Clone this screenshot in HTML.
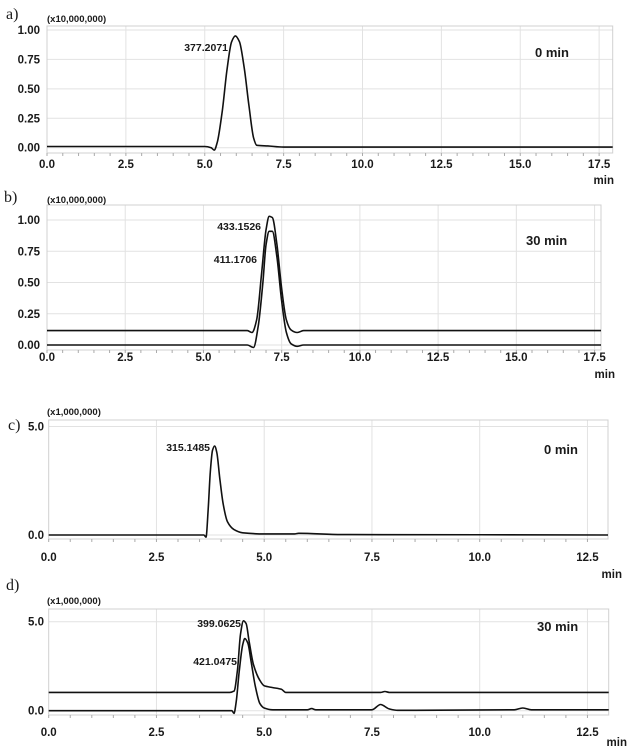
<!DOCTYPE html>
<html><head><meta charset="utf-8">
<style>
html,body{margin:0;padding:0;background:#fff;}
svg{display:block;}
.tk{font-family:"Liberation Sans",Arial,sans-serif;font-weight:bold;font-size:11.5px;fill:#1a1a1a;}
.an{font-family:"Liberation Sans",Arial,sans-serif;font-weight:bold;font-size:10.5px;fill:#1a1a1a;}
.sc{font-family:"Liberation Sans",Arial,sans-serif;font-weight:bold;font-size:9.5px;fill:#1a1a1a;}
.tm{font-family:"Liberation Sans",Arial,sans-serif;font-weight:bold;font-size:13px;fill:#1a1a1a;}
.pl{font-family:"Liberation Serif",serif;font-size:16px;fill:#1a1a1a;}
</style></head>
<body>
<svg id="fig" width="634" height="751" viewBox="0 0 634 751" xmlns="http://www.w3.org/2000/svg"></svg>
<script>
// Panel a
const aT = [0,5.0,5.2,5.3,5.4,5.55,5.7,5.85,5.97,6.1,6.25,6.4,6.55,6.65,7.0,7.5,18];
const aV = [0.01,0.01,0.0,-0.02,0.05,0.3,0.65,0.9,0.95,0.9,0.68,0.36,0.08,0.02,0.015,0.005,0.005];
// Panel b
const bUT = [0,6.4,6.55,6.7,6.85,7.0,7.1,7.2,7.35,7.5,7.65,7.8,8.0,8.2,18];
const bUV = [0.115,0.115,0.1,0.2,0.55,0.92,1.03,1.02,0.8,0.45,0.2,0.12,0.1,0.115,0.115];
const bLT = [0,6.4,6.6,6.75,6.9,7.0,7.1,7.2,7.35,7.5,7.65,7.8,8.0,8.2,18];
const bLV = [0,0,-0.02,0.15,0.5,0.8,0.91,0.91,0.7,0.35,0.1,0.01,-0.01,0,0];
// Panel c
const cT = [0,3.6,3.65,3.7,3.75,3.8,3.85,3.9,3.97,4.05,4.15,4.3,4.5,5.0,5.7,5.8,6.8,7.0,13];
const cV = [0,0,-0.1,1.2,2.9,3.9,4.1,3.8,2.6,1.4,0.6,0.25,0.1,0.05,0.05,0.08,0.02,0.02,0];
// Panel d
const dUT = [0,4.2,4.3,4.38,4.45,4.52,4.58,4.65,4.75,4.9,5.0,5.2,5.4,5.5,7.7,7.8,7.9,13];
const dUV = [1.03,1.03,1.1,2.3,4.3,5.05,4.9,3.9,2.6,1.7,1.4,1.3,1.2,1.03,1.03,1.08,1.03,1.03];
const dLT = [0,4.25,4.3,4.35,4.42,4.5,4.55,4.62,4.7,4.8,4.9,5.0,5.2,6.0,6.1,6.2,7.5,7.7,7.9,8.1,10.8,11.0,11.2,13];
const dLV = [0,0,-0.15,0.5,2.2,3.7,4.05,3.8,2.7,1.3,0.4,0.15,0.05,0.05,0.12,0.05,0.05,0.35,0.1,0.02,0.05,0.15,0.05,0.05];

const xTicks1 = ["0.0","2.5","5.0","7.5","10.0","12.5","15.0","17.5"];
const xTicks2 = ["0.0","2.5","5.0","7.5","10.0","12.5"];
const yTicksAB = ["0.00","0.25","0.50","0.75","1.00"];
const yTicksCD = ["0.0","5.0"];

const NS = "http://www.w3.org/2000/svg";
const fig = document.getElementById('fig');
function mk(tag, attrs, parent, text){
  const e = document.createElementNS(NS, tag);
  for (const k in attrs) e.setAttribute(k, attrs[k]);
  if (text !== undefined) e.textContent = text;
  (parent||fig).appendChild(e);
  return e;
}
// monotone cubic (Fritsch-Carlson) in x
function smoothPath(pts){
  const n = pts.length, dx = [], m = [], s = [];
  for (let i = 0; i < n-1; i++){ dx[i] = pts[i+1][0]-pts[i][0]; s[i] = dx[i] ? (pts[i+1][1]-pts[i][1])/dx[i] : 0; }
  m[0] = s[0]; m[n-1] = s[n-2];
  for (let i = 1; i < n-1; i++){
    if (s[i-1]*s[i] <= 0) m[i] = 0;
    else { const w1 = 2*dx[i]+dx[i-1], w2 = dx[i]+2*dx[i-1]; m[i] = (w1+w2)/(w1/s[i-1]+w2/s[i]); }
  }
  let d = 'M' + pts[0][0].toFixed(1) + ',' + pts[0][1].toFixed(1);
  for (let i = 0; i < n-1; i++){
    const h = dx[i]/3;
    d += 'C' + (pts[i][0]+h).toFixed(1) + ',' + (pts[i][1]+m[i]*h).toFixed(1) + ' ' +
         (pts[i+1][0]-h).toFixed(1) + ',' + (pts[i+1][1]-m[i+1]*h).toFixed(1) + ' ' +
         pts[i+1][0].toFixed(1) + ',' + pts[i+1][1].toFixed(1);
  }
  return d;
}

function panel(p){
  const g = mk('g', {});
  
  
  const X = t => p.x0 + t * p.kx;
  const Y = v => p.y0 - v * p.ky;
  for (let i = 1; i < p.xticks.length; i++){
    const gl = mk('line', {x1:X(+p.xticks[i]), x2:X(+p.xticks[i]), y1:p.top, y2:p.bot, stroke:'#e2e2e2', 'stroke-width':1}, g);
    
    
  }
  p.yticks.forEach(s => {
    const gl = mk('line', {x1:p.x0, x2:p.right, y1:Y(+s), y2:Y(+s), stroke:'#e2e2e2', 'stroke-width':1}, g);
    
    
  });
  const fr = mk('rect', {x:p.x0, y:p.top, width:p.right-p.x0, height:p.bot-p.top, fill:'none', stroke:'#d0d0d0', 'stroke-width':1}, g);
  
  
  for (let t = 0; X(t) <= p.right + 0.1; t += 0.5){
    mk('line', {x1:X(t), x2:X(t), y1:p.bot, y2:p.bot + 3, stroke:'#aaa', 'stroke-width':1}, g);
  }
  p.xticks.forEach(s => {
    const tl = mk('text', {x:X(+s), y:p.xlabY, 'text-anchor':'middle', class:'tk'}, g, s);
    
    
  });
  p.yticks.forEach(s => {
    const tl = mk('text', {x:p.ylabX, y:Y(+s)+4, 'text-anchor':'end', class:'tk'}, g, s);
    
    
  });
  const mn = mk('text', {x:p.minX, y:p.minY, 'text-anchor':'end', class:'tk'}, g, 'min');
  
  
  const sc = mk('text', {x:47, y:p.scaleY, class:'sc'}, g, p.scale);
  
  
  const lb = mk('text', {x:p.lblX, y:p.lblY, class:'pl'}, g, p.label);
  
  
  const tm = mk('text', {x:p.timeX, y:p.timeY, class:'tm'}, g, p.time);
  
  
  p.series.forEach(s => {
    const pts = s.t.map((t, i) => [Math.min(X(t), p.right), Y(s.v[i])]);
    const pa = mk('path', {d:smoothPath(pts), fill:'none', stroke:'#111', 'stroke-width':1.6, 'stroke-linejoin':'round'}, g);
    
    
    const at = mk('text', {x:s.lx, y:s.ly, 'text-anchor':'end', class:'an'}, g, s.id);
    
    
  });
}

panel({name:'panel-a', label:'a)', lblX:6, lblY:19, scale:'(x10,000,000)', scaleY:22, time:'0 min', timeX:535, timeY:57,
  x0:47, kx:31.55, right:612.7, top:26, bot:153, y0:147.7, ky:117.7,
  xticks:xTicks1, yticks:yTicksAB, xlabY:168, ylabX:40, minX:614, minY:184,
  series:[{id:'377.2071', t:aT, v:aV, lx:228, ly:51}]});
panel({name:'panel-b', label:'b)', lblX:4, lblY:202, scale:'(x10,000,000)', scaleY:203, time:'30 min', timeX:526, timeY:245,
  x0:47, kx:31.29, right:601, top:205, bot:350, y0:345, ky:125,
  xticks:xTicks1, yticks:yTicksAB, xlabY:361, ylabX:40, minX:615, minY:378,
  series:[{id:'433.1526', t:bUT, v:bUV, lx:261, ly:230},{id:'411.1706', t:bLT, v:bLV, lx:257, ly:263}]});
panel({name:'panel-c', label:'c)', lblX:8, lblY:430, scale:'(x1,000,000)', scaleY:415, time:'0 min', timeX:544, timeY:454,
  x0:48.7, kx:43.1, right:608, top:420, bot:539, y0:535, ky:21.7,
  xticks:xTicks2, yticks:yTicksCD, xlabY:561, ylabX:44, minX:622, minY:578,
  series:[{id:'315.1485', t:cT, v:cV, lx:210, ly:451}]});
panel({name:'panel-d', label:'d)', lblX:6, lblY:590, scale:'(x1,000,000)', scaleY:604, time:'30 min', timeX:537, timeY:631,
  x0:48.7, kx:43.1, right:608.7, top:609, bot:715, y0:710.7, ky:17.8,
  xticks:xTicks2, yticks:yTicksCD, xlabY:736, ylabX:44, minX:627, minY:746,
  series:[{id:'399.0625', t:dUT, v:dUV, lx:241, ly:627},{id:'421.0475', t:dLT, v:dLV, lx:237, ly:665}]});
</script>
</body></html>
